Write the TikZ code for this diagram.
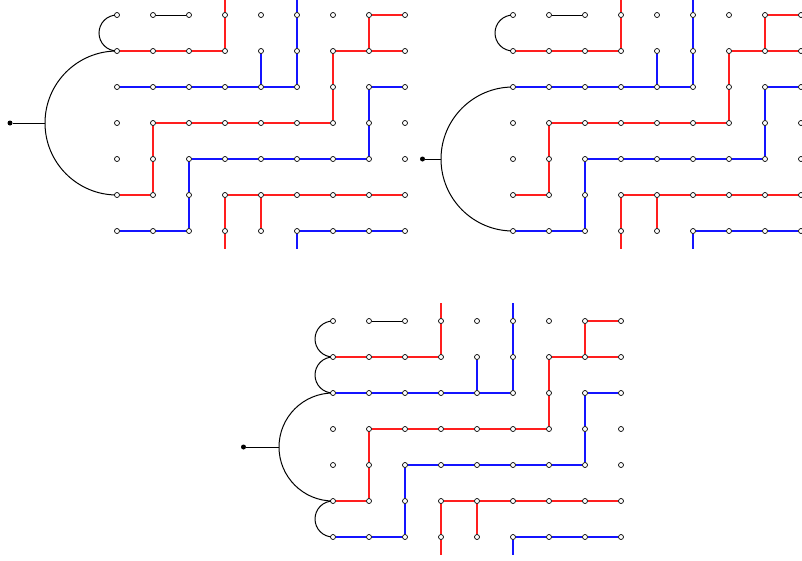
\documentclass[tikz,border=0pt]{standalone}
\definecolor{lred}{RGB}{255,30,30}
\definecolor{lblue}{RGB}{20,20,255}
\tikzset{
 gp/.style={circle,inner sep=0pt,minimum size=5pt},
 gpc/.style={draw=black,fill=white,line width=0.7pt},
 rd/.style={draw=lred,line width=1.1pt},
 bl/.style={draw=lblue,line width=1.1pt},
 bk/.style={draw=black,line width=1pt},
 src/.style={circle,fill=black,inner sep=0pt,minimum size=5pt},
}
\newcommand\gridpanel[3]{%
 \foreach \c in {0,...,8}{\foreach \r in {0,...,6}{
   \node[gp] (#1-\c-\r) at ({#2+36*\c},{-(#3+36*\r)}) {};}}
 \coordinate (#1-top3) at ({#2+108},{-(#3-18)});
 \coordinate (#1-top5) at ({#2+180},{-(#3-18)});
 \coordinate (#1-bot3) at ({#2+108},{-(#3+234)});
 \coordinate (#1-bot5) at ({#2+180},{-(#3+234)});
 \draw[bk] (#1-1-0) -- (#1-2-0);
 \draw[rd] (#1-0-1) -- (#1-1-1) -- (#1-2-1) -- (#1-3-1) -- (#1-3-0) -- (#1-top3);
 \draw[rd] (#1-8-0) -- (#1-7-0) -- (#1-7-1);
 \draw[rd] (#1-8-1) -- (#1-7-1) -- (#1-6-1) -- (#1-6-2) -- (#1-6-3) -- (#1-5-3) -- (#1-4-3) -- (#1-3-3) -- (#1-2-3) -- (#1-1-3) -- (#1-1-4) -- (#1-1-5) -- (#1-0-5);
 \draw[rd] (#1-8-5) -- (#1-7-5) -- (#1-6-5) -- (#1-5-5) -- (#1-4-5) -- (#1-3-5) -- (#1-3-6) -- (#1-bot3);
 \draw[rd] (#1-4-5) -- (#1-4-6);
 \draw[bl] (#1-top5) -- (#1-5-0) -- (#1-5-1) -- (#1-5-2) -- (#1-4-2) -- (#1-3-2) -- (#1-2-2) -- (#1-1-2) -- (#1-0-2);
 \draw[bl] (#1-4-1) -- (#1-4-2);
 \draw[bl] (#1-8-2) -- (#1-7-2) -- (#1-7-3) -- (#1-7-4) -- (#1-6-4) -- (#1-5-4) -- (#1-4-4) -- (#1-3-4) -- (#1-2-4) -- (#1-2-5) -- (#1-2-6) -- (#1-1-6) -- (#1-0-6);
 \draw[bl] (#1-8-6) -- (#1-7-6) -- (#1-6-6) -- (#1-5-6) -- (#1-bot5);
}
\newcommand\gridcircles[1]{%
 \foreach \c in {0,...,8}{\foreach \r in {0,...,6}{
   \draw[gpc] (#1-\c-\r.center) circle[radius=2.5pt];}}
}
\begin{document}
\begin{tikzpicture}[x=1pt,y=1pt]
\useasboundingbox (0,0) rectangle (802,-560);
% panel 1
\gridpanel{P}{117}{15}
\node[src] (P-src) at (10,-123) {};
\coordinate (P-join) at (45,-123);
\draw[bk] (P-src) -- (P-join);
\draw[bk] (P-0-1.center) arc[start angle=90,end angle=270,radius=72];
\draw[bk] (P-0-0.center) arc[start angle=90,end angle=270,radius=18];
\gridcircles{P}
% panel 2
\gridpanel{Q}{513}{15}
\node[src] (Q-src) at (422.5,-159) {};
\coordinate (Q-join) at (441,-159);
\draw[bk] (Q-src) -- (Q-join);
\draw[bk] (Q-0-2.center) arc[start angle=90,end angle=270,radius=72];
\draw[bk] (Q-0-0.center) arc[start angle=90,end angle=270,radius=18];
\gridcircles{Q}
% panel 3
\gridpanel{R}{333}{321}
\node[src] (R-src) at (243.5,-447) {};
\coordinate (R-join) at (279,-447);
\draw[bk] (R-src) -- (R-join);
\draw[bk] (R-0-2.center) arc[start angle=90,end angle=270,radius=54];
\draw[bk] (R-0-0.center) arc[start angle=90,end angle=270,radius=18];
\draw[bk] (R-0-1.center) arc[start angle=90,end angle=270,radius=18];
\draw[bk] (R-0-5.center) arc[start angle=90,end angle=270,radius=18];
\gridcircles{R}
\end{tikzpicture}
\end{document}
